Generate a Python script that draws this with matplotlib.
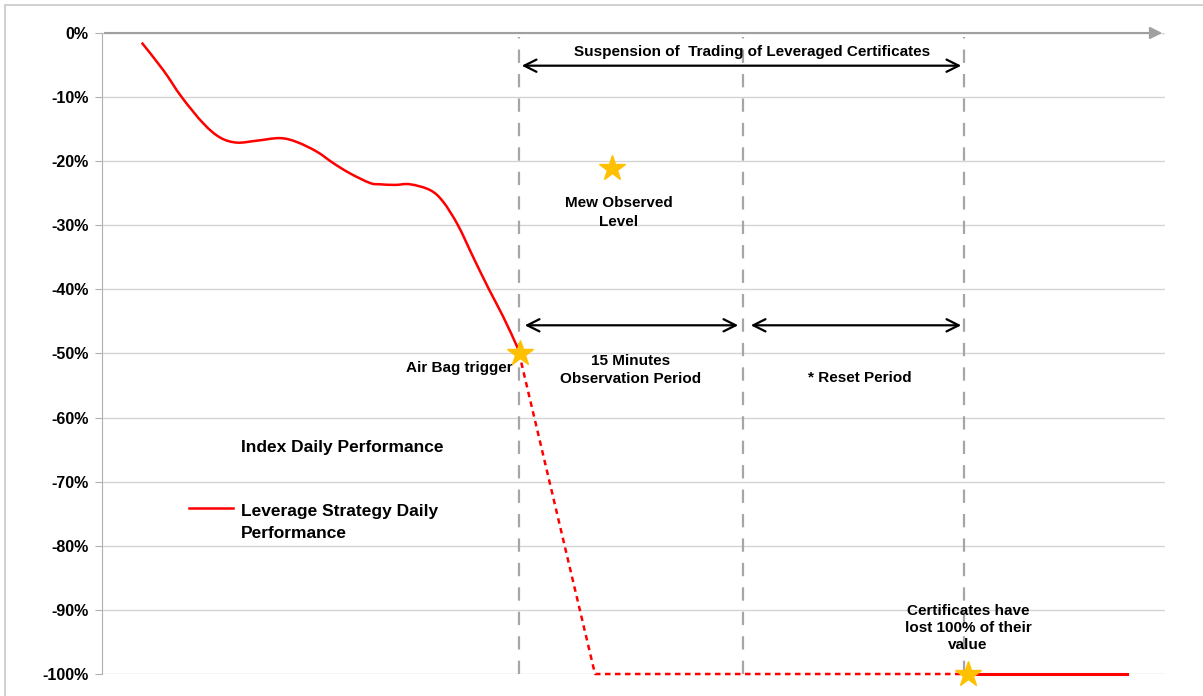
import numpy as np
import matplotlib.pyplot as plt
from matplotlib.patches import Rectangle, PathPatch
from matplotlib.path import Path
from matplotlib.ticker import FuncFormatter

FONTS = ['Liberation Sans Narrow', 'Liberation Sans', 'DejaVu Sans']
plt.rcParams['font.family'] = FONTS

# --- data (time in arbitrary units, performance in %) -----------------------
t_curve = [3.97, 6.13, 7.97, 10.13, 11.8, 13.47, 15.47, 17.8, 19.47, 21.47,
           23.13, 24.8, 26.8, 27.8, 29.3, 30.8, 32.8, 34.1, 35.6, 37.1, 38.7,
           40.1, 41.5, 41.7]
v_curve = [-1.5, -5.8, -10.0, -14.1, -16.3, -17.1, -16.8, -16.4, -17.0, -18.5,
           -20.3, -21.9, -23.4, -23.6, -23.7, -23.6, -24.5, -26.3, -30.0, -34.9,
           -40.0, -44.2, -48.9, -49.9]

t_drop = [41.7, 49.3, 86.6]
v_drop = [-49.9, -100.0, -100.0]

t_flat = [86.6, 102.5]
v_flat = [-100.0, -100.0]

t_phases = [41.7, 64.1, 86.2]          # trigger, end of observation, end of reset
stars_t = [41.8, 51.0, 86.6]
stars_v = [-50.0, -21.1, -100.0]

y_ticks = list(range(0, -101, -10))

RED = '#FF0000'
GOLD = '#FFC000'
GREY = '#A6A6A6'


def Smooth_path(x, y):
    """Courbe lissee a la Excel (Catmull-Rom -> Bezier) passant par les points."""
    pts = np.column_stack([x, y])
    verts = [pts[0]]
    codes = [Path.MOVETO]
    n = len(pts)
    for i in range(n - 1):
        p0 = pts[max(i - 1, 0)]
        p1 = pts[i]
        p2 = pts[i + 1]
        p3 = pts[min(i + 2, n - 1)]
        c1 = p1 + (p2 - p0) / 6.0
        c2 = p2 - (p3 - p1) / 6.0
        verts += [c1, c2, p2]
        codes += [Path.CURVE4] * 3
    return Path(verts, codes)


fig = plt.figure(figsize=(12.03, 6.96), dpi=100)
fig.patches.append(Rectangle((5 / 1203, -0.01), 1.05, 0.01 + 691 / 696,
                             transform=fig.transFigure, fill=False,
                             edgecolor='#C8C8C8', linewidth=1.2))
ax = fig.add_axes([102 / 1203, 22 / 696, (1165 - 102) / 1203, (674 - 33) / 696])

ax.set_xlim(0, 106.3)
ax.set_ylim(-100, 0)
ax.set_yticks(y_ticks)
ax.yaxis.set_major_formatter(FuncFormatter(lambda v, p: f"{v:.0f}%"))
ax.set_xticks([])
for s in ['top', 'right', 'bottom']:
    ax.spines[s].set_visible(False)
ax.spines['left'].set_color('#B0B0B0')
ax.tick_params(axis='y', length=5, color='#B0B0B0', pad=4.5)
for lab in ax.get_yticklabels():
    lab.set_fontweight('bold')
    lab.set_fontsize(11.5)
    lab.set_family(FONTS)
ax.grid(axis='y', color='#D4D4D4', linewidth=1)
ax.set_axisbelow(True)

# x axis with arrow head
ax.annotate('', xy=(1.0, 1.0), xytext=(0, 1.0), xycoords='axes fraction',
            arrowprops=dict(arrowstyle='-|>', color='#A0A0A0', lw=1.5,
                            mutation_scale=18), annotation_clip=False)

# phase separators
for tp in t_phases:
    ax.plot([tp, tp], [-100, -0.7], color=GREY, lw=1.6, ls=(0, (6, 5)),
            clip_on=False, zorder=1)

# curves
ax.add_patch(PathPatch(Smooth_path(t_curve, v_curve), fill=False,
                       edgecolor=RED, lw=1.8, zorder=3))
ax.plot(t_drop, v_drop, color=RED, lw=1.8, ls=(0, (2.2, 1.8)), zorder=3,
        clip_on=False)
ax.plot(t_flat, v_flat, color=RED, lw=2.2, zorder=3, clip_on=False)

ax.plot(stars_t, stars_v, ls='none', marker='*', ms=19, color=GOLD,
        markeredgecolor=GOLD, zorder=5, clip_on=False)

# double arrows
arrow_kw = dict(arrowstyle='<->', color='black', lw=1.6, mutation_scale=22)
ax.annotate('', xy=(t_phases[0], -5.1), xytext=(t_phases[2], -5.1),
            arrowprops=arrow_kw)
ax.annotate('', xy=(t_phases[0] + 0.3, -45.6), xytext=(t_phases[1] - 0.2, -45.6),
            arrowprops=arrow_kw)
ax.annotate('', xy=(t_phases[1] + 0.5, -45.6), xytext=(t_phases[2], -45.6),
            arrowprops=arrow_kw)

txt = dict(fontweight='bold', fontsize=11, color='black', family=FONTS)
ax.text(65.0, -3.0, 'Suspension of  Trading of Leveraged Certificates',
        ha='center', va='center', **txt)
ax.text(51.7, -28.0, 'Mew Observed\nLevel', ha='center', va='center',
        linespacing=1.5, **txt)
ax.text(52.9, -52.6, '15 Minutes\nObservation Period', ha='center',
        va='center', linespacing=1.35, **txt)
ax.text(75.8, -53.8, '* Reset Period', ha='center', va='center', **txt)
ax.text(41.1, -52.3, 'Air Bag trigger', ha='right', va='center', **txt)
ax.text(86.6, -92.8, 'Certificates have\nlost 100% of their\nvalue',
        ha='center', va='center', linespacing=1.3, **txt)

# legend (hand placed as in the original)
leg = dict(fontweight='heavy', fontsize=12.5, color='black', family=FONTS)
ax.text(13.9, -64.6, 'Index Daily Performance', ha='left', va='center', **leg)
ax.plot([8.7, 13.1], [-74.1, -74.1], color=RED, lw=1.8)
ax.text(13.9, -76.4, 'Leverage Strategy Daily\nPerformance', ha='left',
        va='center', linespacing=1.6, **leg)

fig.savefig('out.png', dpi=100)
